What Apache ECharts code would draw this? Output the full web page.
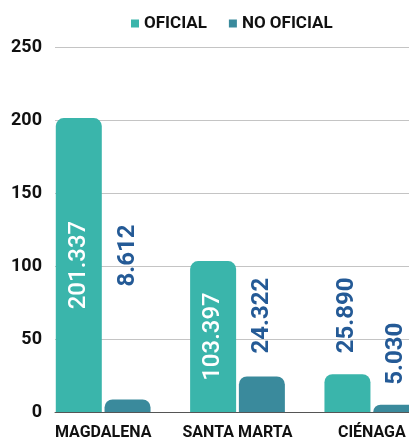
<!DOCTYPE html>
<html>
<head>
<meta charset="utf-8">
<script src="https://cdn.jsdelivr.net/npm/echarts@6/dist/echarts.min.js"></script>
<style>
  html, body { margin: 0; padding: 0; background: #ffffff; }
  #chart { width: 409px; height: 440px; }
</style>
</head>
<body>
<div id="chart"></div>
<script>
// datos (miles)
var categorias = ['MAGDALENA', 'SANTA MARTA', 'CIÉNAGA'];
var oficial = [201.337, 103.397, 25.890];
var noOficial = [8.612, 24.322, 5.030];
var yMin = 0, yMax = 250, yPaso = 50;

var colorOficial = '#3ab5ab';
var colorNoOficial = '#3a8a9c';
var azulTexto = '#245a96';

// distancia de las etiquetas que van encima de la barra
var distOficial = [0, 0, 21];
var distNoOficial = [113, 23, 20];

function etiqueta(v, dist) {
    if (v > 50) {
        return {
            show: true, position: 'inside', rotate: 90,
            align: 'center', verticalAlign: 'middle',
            color: '#ffffff', fontSize: 24, fontWeight: 500,
            fontFamily: 'Roboto',
            formatter: function (p) { return p.value.toFixed(3); }
        };
    }
    return {
        show: true, position: 'top', rotate: 90, distance: dist,
        align: 'left', verticalAlign: 'middle',
        color: azulTexto, fontSize: 24, fontWeight: 'bold',
        fontFamily: 'Roboto',
        formatter: function (p) { return p.value.toFixed(3); }
    };
}

var datosOficial = oficial.map(function (v, i) {
    return { value: v, label: etiqueta(v, distOficial[i]) };
});
var datosNoOficial = noOficial.map(function (v, i) {
    return { value: v, label: etiqueta(v, distNoOficial[i]) };
});

var mychart = echarts.init(document.getElementById('chart'));

var option = {
    backgroundColor: '#ffffff',
    animation: false,
    color: [colorOficial, colorNoOficial],
    legend: {
        left: 126,
        top: 10,
        itemWidth: 8,
        itemHeight: 8,
        itemGap: 22,
        icon: 'rect',
        textStyle: {
            fontSize: 17,
            fontWeight: 'bold',
            color: '#111111',
            fontFamily: 'Roboto'
        },
        data: ['OFICIAL', 'NO OFICIAL']
    },
    grid: [
        { left: 55, right: 0, top: 47, height: 365, outerBoundsMode: 'none' },
        { left: 36, width: 403, top: 47, height: 365, outerBoundsMode: 'none' }
    ],
    xAxis: [
        {
            gridIndex: 0,
            type: 'category',
            data: categorias,
            axisLine: { show: true, lineStyle: { color: '#555555', width: 1 } },
            axisTick: { show: false },
            axisLabel: { show: false }
        },
        {
            gridIndex: 1,
            type: 'category',
            data: categorias,
            axisLine: { show: false },
            axisTick: { show: false },
            axisLabel: {
                interval: 0,
                margin: 13,
                fontSize: 16,
                fontWeight: 'bold',
                color: '#111111',
                fontFamily: 'Roboto'
            }
        }
    ],
    yAxis: [
        {
            gridIndex: 0,
            type: 'value',
            min: yMin, max: yMax, interval: yPaso,
            axisLine: { show: false },
            axisTick: { show: false },
            splitLine: { lineStyle: { color: '#c4c4c4', width: 1 } },
            axisLabel: {
                margin: 13,
                fontSize: 18,
                fontWeight: 'bold',
                color: '#111111',
                fontFamily: 'Roboto'
            }
        },
        {
            gridIndex: 1,
            type: 'value',
            min: yMin, max: yMax, interval: yPaso,
            axisLine: { show: false },
            axisTick: { show: false },
            splitLine: { show: false },
            axisLabel: { show: false }
        }
    ],
    series: [
        {
            name: 'OFICIAL',
            type: 'bar',
            xAxisIndex: 1,
            yAxisIndex: 1,
            barWidth: 46,
            barGap: '6%',
            itemStyle: { color: colorOficial, borderRadius: [8, 8, 0, 0] },
            data: datosOficial
        },
        {
            name: 'NO OFICIAL',
            type: 'bar',
            xAxisIndex: 1,
            yAxisIndex: 1,
            barWidth: 46,
            itemStyle: { color: colorNoOficial, borderRadius: [8, 8, 0, 0] },
            data: datosNoOficial
        }
    ]
};
mychart.setOption(option, true);
</script>
</body>
</html>
